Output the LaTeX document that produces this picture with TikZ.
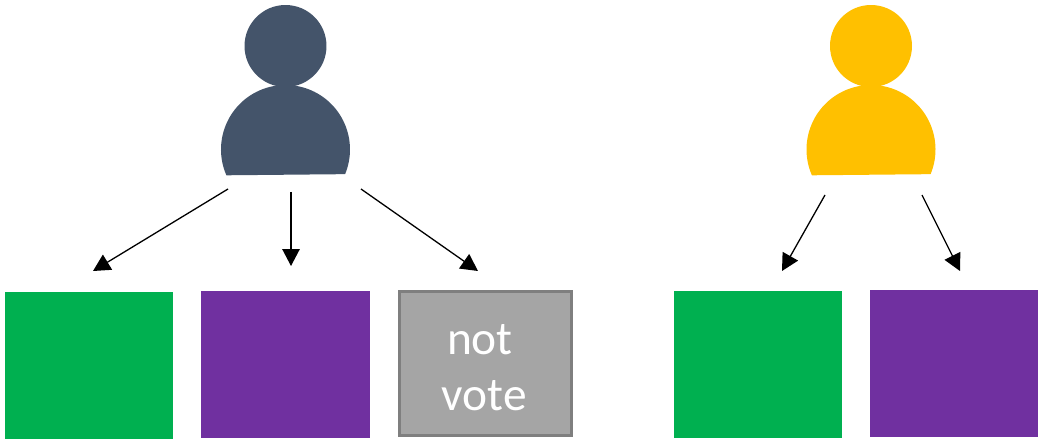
\documentclass[tikz,border=0pt]{standalone}
\usepackage{fontspec}
\setmainfont{Carlito}
\usetikzlibrary{positioning,arrows.meta}

\definecolor{navy}{HTML}{44546A}
\definecolor{gold}{HTML}{FFC000}
\definecolor{votegreen}{HTML}{00B050}
\definecolor{votepurple}{HTML}{7030A0}
\definecolor{votegray}{HTML}{A5A5A5}
\definecolor{voteborder}{HTML}{7F7F7F}

\tikzset{
    votebox/.style={minimum width=3.37cm, minimum height=2.94cm, inner sep=0pt, outer sep=0pt},
    notvote/.style={votebox, draw=voteborder, fill=votegray, line width=0.06cm, minimum width=3.43cm, minimum height=2.9cm,
        text=white, align=center, font=\fontsize{27}{32.5}\selectfont},
    ballot/.style={-{Triangle[length=0.34cm,width=0.35cm]}, line width=0.026cm},
    person/.pic={
        \node[circle, fill=#1, minimum size=1.64cm, inner sep=0pt] (-head) at (0,-103.5) {};
        \fill[#1] (-59.1,25.8) arc[start angle=156.4, end angle=382.5, radius=64.5] -- cycle;
    }
}

\begin{document}
\begin{tikzpicture}[x=0.02cm, y=-0.02cm]
    \useasboundingbox (0,0) rectangle (1038,442);

    \pic (voterA) at (285.5,149.5) {person=navy};
    \pic (voterB) at (871,149.5) {person=gold};

    \node[votebox, fill=votegreen] (greenA) at (89,365.5) {};
    \node[votebox, fill=votepurple, right=0.56cm of greenA, yshift=0.02cm] (purpleA) {};
    \node[notvote, right=0.6cm of purpleA, yshift=0.02cm] (notA) {\rule{0pt}{0.76cm}not\hspace*{0.22cm}\\[-0.03cm]vote\hspace*{0.04cm}};
    \node[votebox, fill=votegreen] (greenB) at (758,364.5) {};
    \node[votebox, fill=votepurple, right=0.56cm of greenB, yshift=0.02cm] (purpleB) {};

    % arrow ends stay clear of the shapes
    \coordinate (fromA1) at (228,189);
    \coordinate (fromA2) at (291,192);
    \coordinate (fromA3) at (361,189);
    \coordinate (toA1) at (93,271);
    \coordinate (toA2) at (291,266);
    \coordinate (toA3) at (478,271);
    \coordinate (fromB1) at (825,195);
    \coordinate (fromB2) at (922,195);
    \coordinate (toB1) at (782,271);
    \coordinate (toB2) at (960,271);

    \draw[ballot] (fromA1) -- (toA1);
    \draw[ballot] (fromA2) -- (toA2);
    \draw[ballot] (fromA3) -- (toA3);
    \draw[ballot] (fromB1) -- (toB1);
    \draw[ballot] (fromB2) -- (toB2);
\end{tikzpicture}
\end{document}
